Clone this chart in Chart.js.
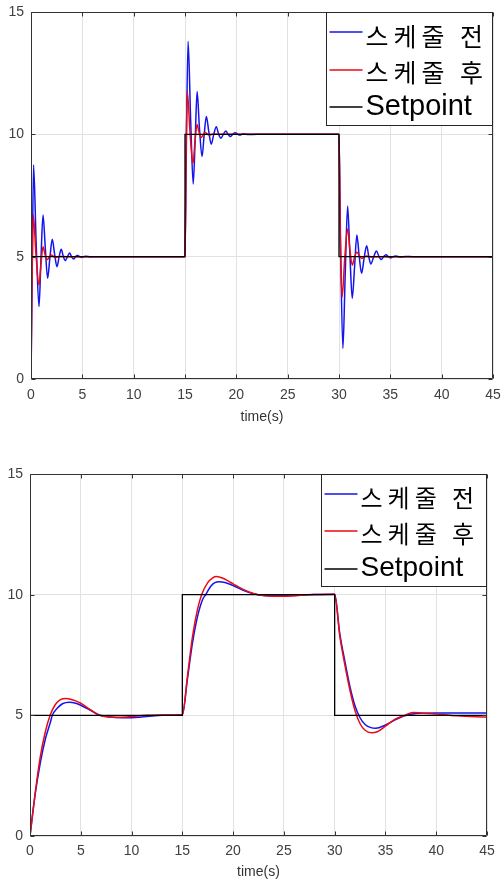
<!DOCTYPE html>
<html>
<head>
<meta charset="utf-8">
<script src="https://cdn.jsdelivr.net/npm/chart.js@4.4.0/dist/chart.umd.min.js"></script>
<style>
body { margin: 0; background: #fff; }
canvas { position: absolute; left: 0; }
#topChart { top: 0; }
#bottomChart { top: 440px; }
</style>
</head>
<body>
<canvas id="topChart" width="503" height="440"></canvas>
<canvas id="bottomChart" width="503" height="441"></canvas>
<script>
// 범례 이름과 색
var seriesNames = ['스케줄 전', '스케줄 후', 'Setpoint'];
var seriesColors = ['rgb(20,20,235)', 'rgb(235,10,20)', '#000000'];

// 목표값 (Setpoint)
var setTime = [0, 15, 15, 30, 30, 45];
var setValue = [5, 5, 10, 10, 5, 5];

// 위 그래프 - 스케줄 전
var topBeforeTime = [0, 0.12, 0.25, 0.5, 0.78, 0.97, 1.17, 1.4, 1.62, 1.85, 2.07, 2.3, 2.53, 2.74, 2.95, 3.15, 3.34, 3.55, 3.76, 3.95, 4.15, 4.33, 4.51, 4.9, 5.3, 5.8, 6.5, 15,
  15.13, 15.3, 15.55, 15.8, 16.0, 16.18, 16.4, 16.66, 16.87, 17.08, 17.32, 17.56, 17.8, 18.05, 18.28, 18.5, 18.73, 18.97, 19.2, 19.42, 19.65, 19.88, 20.3, 20.7, 21.2, 22, 30,
  30.15, 30.38, 30.6, 30.84, 31.06, 31.29, 31.52, 31.74, 31.97, 32.2, 32.45, 32.7, 32.9, 33.1, 33.38, 33.65, 33.9, 34.12, 34.35, 34.58, 34.8, 35.03, 35.5, 36.0, 36.5, 37.2, 45];
var topBeforeValue = [0, 4.4, 8.75, 5.6, 2.96, 4.9, 6.7, 5.3, 4.12, 5.0, 5.71, 5.1, 4.59, 5.0, 5.3, 5.0, 4.84, 5.0, 5.15, 5.0, 4.9, 5.0, 5.05, 4.97, 5.02, 4.99, 5.0, 5.0,
  9.4, 13.8, 10.6, 7.97, 9.9, 11.75, 10.3, 9.09, 10.0, 10.73, 10.1, 9.6, 10.0, 10.31, 10.0, 9.84, 10.0, 10.14, 10.0, 9.91, 10.0, 10.06, 9.97, 10.02, 9.99, 10.0, 10.0,
  5.6, 1.25, 4.2, 7.07, 5.1, 3.3, 4.6, 5.89, 5.0, 4.32, 4.95, 5.45, 5.0, 4.7, 5.0, 5.23, 5.0, 4.88, 5.0, 5.08, 5.0, 4.95, 5.03, 4.98, 5.01, 5.0, 5.0];

// 위 그래프 - 스케줄 후
var topAfterTime = [0, 0.1, 0.22, 0.5, 0.78, 0.97, 1.17, 1.36, 1.56, 1.95, 2.35, 2.8, 3.5, 15,
  15.1, 15.22, 15.5, 15.78, 15.97, 16.17, 16.36, 16.56, 16.95, 17.35, 17.8, 18.5, 30,
  30.12, 30.3, 30.57, 30.84, 31.06, 31.29, 31.52, 31.74, 32.2, 32.7, 33.2, 34, 45];
var topAfterValue = [0, 4.0, 6.7, 5.0, 3.84, 4.7, 5.41, 5.1, 4.87, 5.07, 4.97, 5.01, 5.0, 5.0,
  9.0, 11.75, 10.0, 8.82, 9.7, 10.4, 10.1, 9.87, 10.07, 9.97, 10.01, 10.0, 10.0,
  6.0, 3.35, 5.0, 6.13, 5.3, 4.65, 5.0, 5.18, 4.93, 5.03, 4.99, 5.0, 5.0];

// 아래 그래프 - 스케줄 전
var botBeforeTime = [0, 0.5, 1, 1.5, 2, 2.2, 2.7, 3.2, 3.86, 4.5, 5, 6, 6.9, 8, 9, 10, 11, 12, 13, 15,
  15.5, 16, 16.5, 17, 17.3, 17.8, 18.2, 18.65, 19.2, 20, 21, 22, 23, 24, 25, 26, 27, 28, 30,
  30.5, 31, 31.5, 32, 32.5, 33, 33.5, 34.05, 35, 36, 36.9, 38, 40, 45];
var botBeforeValue = [0, 1.7, 3.0, 4.0, 4.7, 5.0, 5.3, 5.48, 5.54, 5.5, 5.42, 5.2, 5.0, 4.93, 4.9, 4.9, 4.93, 4.97, 5.0, 5.02,
  6.5, 8.0, 9.1, 9.8, 10.0, 10.35, 10.5, 10.54, 10.5, 10.38, 10.18, 10.04, 9.97, 9.95, 9.95, 9.97, 9.99, 10.01, 10.02,
  8.4, 7.25, 6.2, 5.4, 4.9, 4.62, 4.5, 4.46, 4.6, 4.82, 4.98, 5.08, 5.1, 5.1];

// 아래 그래프 - 스케줄 후
var botAfterTime = [0, 0.5, 1, 1.5, 2, 2.5, 3, 3.54, 4, 4.5, 5, 5.5, 6, 6.6, 7, 7.5, 8.5, 9.5, 10.5, 11.5, 13, 15,
  15.5, 16, 16.5, 16.9, 17.5, 18, 18.35, 19, 19.5, 20, 21, 22, 23, 24, 25, 26, 27, 28, 30,
  30.5, 31, 31.5, 32, 32.5, 33, 33.6, 34.2, 35, 36, 36.9, 37.7, 38.5, 40, 42, 45];
var botAfterValue = [0, 1.75, 3.25, 4.3, 5.02, 5.45, 5.65, 5.7, 5.67, 5.6, 5.5, 5.36, 5.22, 5.05, 4.98, 4.94, 4.91, 4.93, 4.97, 5.0, 5.01, 5.02,
  6.6, 8.26, 9.4, 10.0, 10.5, 10.7, 10.75, 10.68, 10.57, 10.45, 10.22, 10.05, 9.96, 9.93, 9.93, 9.96, 9.99, 10.01, 10.02,
  8.3, 7.1, 6.05, 5.2, 4.65, 4.38, 4.28, 4.32, 4.55, 4.85, 5.0, 5.12, 5.1, 5.05, 4.98, 4.93];

function toPoints(ts, vs) {
  return ts.map(function(t, i) { return { x: t, y: vs[i] }; });
}

Chart.defaults.font.family = '"Liberation Sans", Arial, sans-serif';

// 축 테두리와 안쪽 눈금
var framePlugin = {
  id: 'frame',
  afterDatasetsDraw: function(chart) {
    var a = chart.chartArea, ctx = chart.ctx;
    var xs = chart.scales.x, ys = chart.scales.y;
    var l = Math.round(a.left) + 0.5, r = Math.round(a.right) - 0.5;
    var t = Math.round(a.top) + 0.5, b = Math.round(a.bottom) - 0.5;
    ctx.save();
    ctx.strokeStyle = '#333';
    ctx.lineWidth = 1;
    ctx.beginPath();
    ctx.rect(l, t, r - l, b - t);
    xs.ticks.forEach(function(tk) {
      var px = Math.round(xs.getPixelForValue(tk.value)) + 0.5;
      ctx.moveTo(px, b); ctx.lineTo(px, b - 4);
      ctx.moveTo(px, t); ctx.lineTo(px, t + 4);
    });
    ys.ticks.forEach(function(tk) {
      var py = Math.round(ys.getPixelForValue(tk.value)) + 0.5;
      ctx.moveTo(l, py); ctx.lineTo(l + 4, py);
      ctx.moveTo(r, py); ctx.lineTo(r - 4, py);
    });
    ctx.stroke();
    ctx.restore();
  }
};

// 오른쪽 위 범례 상자
var boxLegend = {
  id: 'boxLegend',
  afterDraw: function(chart, args, opts) {
    var a = chart.chartArea, ctx = chart.ctx;
    var right = Math.round(a.right) - 0.5, top = Math.round(a.top) + 0.5;
    var left = right - opts.width;
    ctx.save();
    ctx.fillStyle = '#fff';
    ctx.fillRect(left, top, opts.width, opts.height);
    ctx.strokeStyle = '#262626';
    ctx.lineWidth = 1;
    ctx.strokeRect(left, top, opts.width, opts.height);
    chart.data.datasets.forEach(function(ds, i) {
      var rowY = top + opts.rows[i];
      var lineY = Math.round(rowY + opts.lineShift[i]);
      ctx.strokeStyle = seriesColors[i];
      ctx.lineWidth = 1.4;
      ctx.beginPath();
      ctx.moveTo(left + 3, lineY);
      ctx.lineTo(left + 36, lineY);
      ctx.stroke();
      var hangul = /[^\x00-\x7f]/.test(ds.label);
      ctx.fillStyle = '#000';
      ctx.textBaseline = 'middle';
      if (hangul) {
        ctx.font = opts.hangulSize + 'px "Noto Sans CJK KR", sans-serif';
        ctx.letterSpacing = '5px';
      } else {
        ctx.font = opts.latinSize + 'px "Liberation Sans", Arial, sans-serif';
        ctx.letterSpacing = '0px';
      }
      ctx.fillText(ds.label, left + 39, rowY);
    });
    ctx.restore();
  }
};

function noScalePadding(s) {
  s.paddingLeft = 0;
  s.paddingRight = 0;
  s.paddingTop = 0;
  s.paddingBottom = 0;
}

function makeChart(id, beforeT, beforeV, afterT, afterV, lay) {
  var ctx = document.getElementById(id).getContext('2d');
  return new Chart(ctx, {
    type: 'line',
    data: {
      datasets: [{
        label: seriesNames[0],
        data: toPoints(beforeT, beforeV),
        borderColor: seriesColors[0],
        borderWidth: 1.5,
        pointRadius: 0,
        cubicInterpolationMode: 'monotone',
        order: 3
      }, {
        label: seriesNames[1],
        data: toPoints(afterT, afterV),
        borderColor: seriesColors[1],
        borderWidth: 1.5,
        pointRadius: 0,
        cubicInterpolationMode: 'monotone',
        order: 2
      }, {
        label: seriesNames[2],
        data: toPoints(setTime, setValue),
        borderColor: seriesColors[2],
        borderWidth: 1.3,
        pointRadius: 0,
        tension: 0,
        order: 1
      }]
    },
    options: {
      responsive: false,
      animation: false,
      layout: { padding: { left: 0, right: lay.right, top: lay.top, bottom: 0 } },
      plugins: {
        legend: { display: false },
        tooltip: { enabled: false },
        boxLegend: lay.legend
      },
      scales: {
        x: {
          type: 'linear',
          min: 0,
          max: 45,
          afterFit: function(s) { s.height = lay.xHeight; noScalePadding(s); },
          ticks: { stepSize: 5, color: '#404040', font: { size: 14 }, padding: lay.xPad },
          grid: { color: '#e2e2e2', drawTicks: false },
          border: { display: false },
          title: { display: true, text: 'time(s)', color: '#333', font: { size: 14 }, padding: { top: 0, bottom: lay.titlePad } }
        },
        y: {
          min: 0,
          max: 15,
          afterFit: function(s) { s.width = lay.yWidth; noScalePadding(s); },
          ticks: { stepSize: 5, color: '#404040', font: { size: 14 }, padding: 7 },
          grid: { color: '#e2e2e2', drawTicks: false },
          border: { display: false }
        }
      }
    },
    plugins: [framePlugin, boxLegend]
  });
}

makeChart('topChart', topBeforeTime, topBeforeValue, topAfterTime, topAfterValue, {
  right: 10, top: 12, yWidth: 31, xHeight: 61, xPad: 8, titlePad: 14,
  legend: { width: 166, height: 113, rows: [24, 60, 94.5], lineShift: [-4.5, -3, 0], hangulSize: 25, latinSize: 29 }
});

makeChart('bottomChart', botBeforeTime, botBeforeValue, botAfterTime, botAfterValue, {
  right: 16, top: 34, yWidth: 30, xHeight: 45, xPad: 7, titlePad: 0,
  legend: { width: 165, height: 112, rows: [23, 59, 94], lineShift: [-4, -3, 0], hangulSize: 24, latinSize: 28 }
});
</script>
</body>
</html>
